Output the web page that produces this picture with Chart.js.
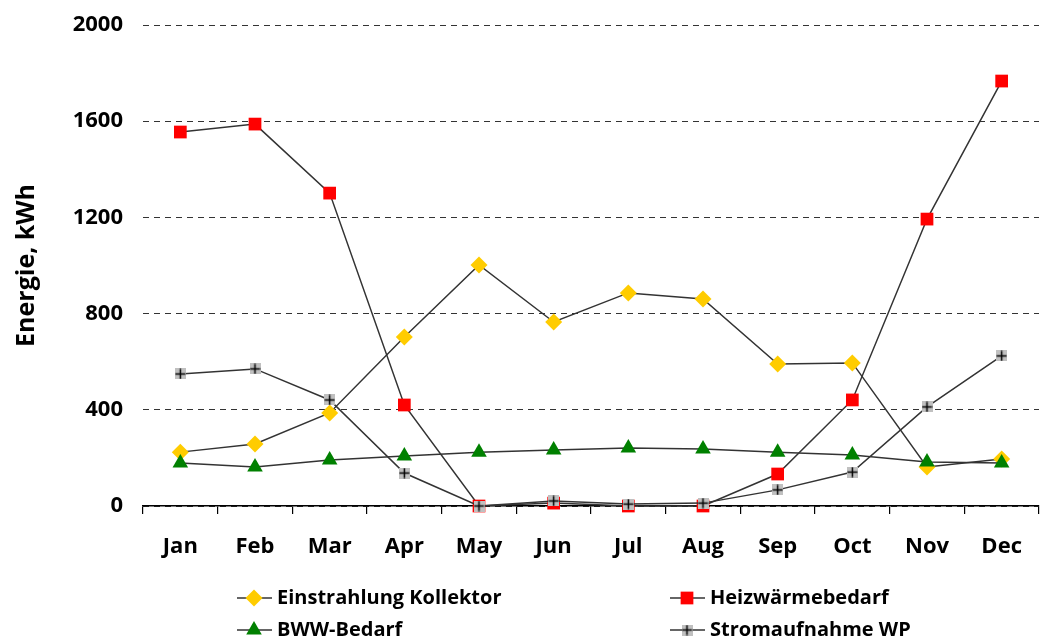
<!DOCTYPE html>
<html>
<head>
<meta charset="utf-8">
<script src="https://cdn.jsdelivr.net/npm/chart.js@4"></script>
<style>
  html, body { margin: 0; padding: 0; background: #fff; overflow: hidden; }
  #wrap { width: 1048px; height: 642px; }
</style>
</head>
<body>
<div id="wrap"><canvas id="energyChart" width="1048" height="642"></canvas></div>
<script>
// chart data
const months = ['Jan', 'Feb', 'Mar', 'Apr', 'May', 'Jun', 'Jul', 'Aug', 'Sep', 'Oct', 'Nov', 'Dec'];
const einstrahlung = [224, 258, 387, 703, 1002, 765, 886, 861, 590, 595, 162, 195];
const heizwaerme = [1555, 1588, 1301, 420, 0, 12, 0, 0, 133, 441, 1193, 1767];
const bwwBedarf = [179, 162, 191, 208, 224, 233, 241, 237, 224, 212, 183, 179];
const stromWP = [549, 570, 441, 137, 0, 21, 8, 12, 67, 141, 412, 624];
const yTicks = [0, 400, 800, 1200, 1600, 2000];

const FONT = "'Open Sans', 'DejaVu Sans', sans-serif";

// gray square with a black plus, used as point style
function plusMarker() {
  const c = document.createElement('canvas');
  c.width = 11; c.height = 11;
  const g = c.getContext('2d');
  g.fillStyle = '#c0c0c0';
  g.fillRect(0, 0, 11, 11);
  g.strokeStyle = '#000';
  g.lineWidth = 1.5;
  g.beginPath();
  g.moveTo(5.5, 0.5); g.lineTo(5.5, 10.5);
  g.moveTo(0.5, 5.5); g.lineTo(10.5, 5.5);
  g.stroke();
  return c;
}
const plusImg = plusMarker();

const lineStyle = { borderColor: '#333', borderWidth: 1.5, tension: 0, fill: false, clip: false };

// legend drawn on the canvas, two columns
const bottomLegend = {
  id: 'bottomLegend',
  afterDraw(chart) {
    const ctx = chart.ctx;
    const items = [
      { ds: 0, x: 237, y: 598 },
      { ds: 1, x: 670, y: 598 },
      { ds: 2, x: 237, y: 630 },
      { ds: 3, x: 670, y: 630 }
    ];
    ctx.save();
    items.forEach(it => {
      const ds = chart.data.datasets[it.ds];
      ctx.strokeStyle = '#333';
      ctx.lineWidth = 1.5;
      ctx.beginPath();
      ctx.moveTo(it.x, it.y);
      ctx.lineTo(it.x + 35, it.y);
      ctx.stroke();
      const opts = {
        pointStyle: ds.pointStyle,
        radius: ds.pointRadius,
        rotation: 0,
        borderWidth: 0
      };
      ctx.fillStyle = ds.pointBackgroundColor;
      ctx.strokeStyle = ds.pointBackgroundColor;
      Chart.helpers.drawPoint(ctx, opts, it.x + 17, it.y);
      ctx.fillStyle = '#000';
      ctx.font = 'bold 20px ' + FONT;
      ctx.textBaseline = 'middle';
      ctx.textAlign = 'left';
      ctx.fillText(ds.label, it.x + 40, it.y);
    });
    ctx.restore();
  }
};

const ctx = document.getElementById('energyChart').getContext('2d');
const energyChart = new Chart(ctx, {
  type: 'line',
  data: {
    labels: months,
    datasets: [{
      label: 'Einstrahlung Kollektor',
      data: einstrahlung,
      ...lineStyle,
      pointStyle: 'rectRot',
      pointRadius: 8.5,
      pointBackgroundColor: '#ffcc00',
      pointBorderWidth: 0,
      order: 3
    }, {
      label: 'Heizwärmebedarf',
      data: heizwaerme,
      ...lineStyle,
      pointStyle: 'rect',
      pointRadius: 9,
      pointBackgroundColor: '#ff0000',
      pointBorderWidth: 0,
      order: 2
    }, {
      label: 'BWW-Bedarf',
      data: bwwBedarf,
      ...lineStyle,
      pointStyle: 'triangle',
      pointRadius: 9,
      pointBackgroundColor: '#008000',
      pointBorderWidth: 0,
      order: 1
    }, {
      label: 'Stromaufnahme WP',
      data: stromWP,
      ...lineStyle,
      pointStyle: plusImg,
      pointRadius: 6,
      pointBackgroundColor: '#c0c0c0',
      order: 0
    }]
  },
  options: {
    responsive: false,
    animation: false,
    layout: { padding: { top: 25, right: 1, bottom: 76, left: 0 } },
    plugins: {
      legend: { display: false },
      tooltip: { enabled: false }
    },
    scales: {
      x: {
        offset: true,
        grid: { offset: true, drawOnChartArea: false, drawTicks: true, tickLength: 8, color: '#000', lineWidth: 1.2 },
        border: { display: true, color: '#000', width: 1.5 },
        ticks: { color: '#000', font: { family: FONT, size: 22, weight: 'bold' }, padding: 20, maxRotation: 0 },
        afterFit(scale) { scale.height = 60; }
      },
      y: {
        min: 0,
        max: 2000,
        afterBuildTicks(scale) { scale.ticks = yTicks.map(v => ({ value: v })); },
        grid: { color: '#333', lineWidth: 1, drawTicks: false },
        border: { display: false, dash: [6, 5] },
        ticks: {
          color: '#000',
          font: { family: FONT, size: 22, weight: 'bold', lineHeight: 1 },
          padding: 20,
          callback: v => String(v)
        },
        title: {
          display: true,
          text: 'Energie, kWh',
          color: '#000',
          font: { family: FONT, size: 25, weight: 'bold' },
          padding: { top: 12, bottom: 0 }
        },
        afterFit(scale) {
          scale.width = 143;
          scale.paddingTop = 0;
          scale.paddingBottom = 0;
        }
      }
    }
  },
  plugins: [bottomLegend]
});
</script>
</body>
</html>
